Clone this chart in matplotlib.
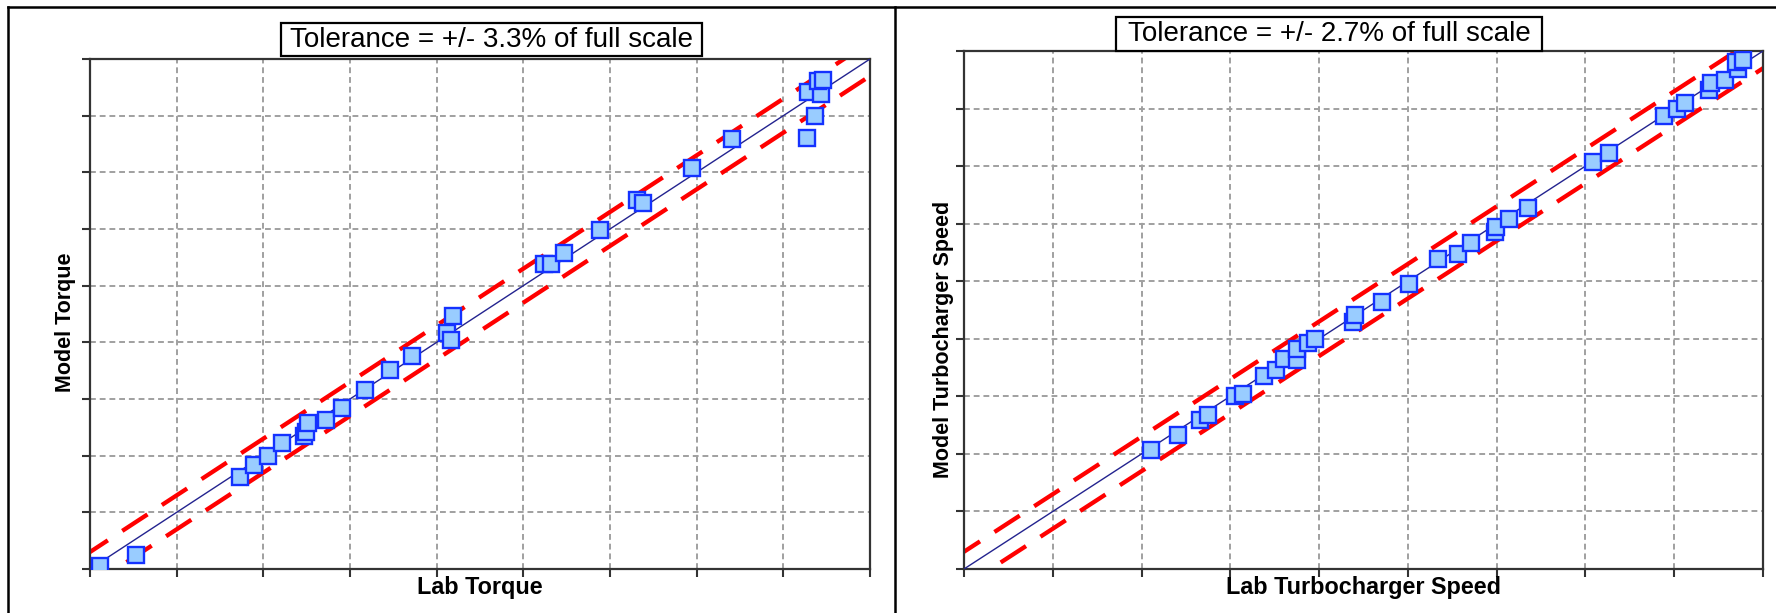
import matplotlib.pyplot as plt
import numpy as np
from matplotlib.lines import Line2D
from matplotlib.patches import Rectangle

plt.rcParams["font.family"] = ["Liberation Sans", "DejaVu Sans"]

# values are in grid units (the original shows no tick labels), 9 divisions per axis
torque_lab = [0.11, 0.53, 1.73, 1.89, 2.05, 2.22, 2.47, 2.49, 2.51, 2.72, 2.91, 3.17,
              3.46, 3.72, 4.12, 4.17, 4.19, 5.24, 5.32, 5.47, 5.88, 6.31, 6.38, 6.95,
              7.41, 8.27, 8.36, 8.29, 8.43, 8.40, 8.46]
torque_model = [0.05, 0.25, 1.62, 1.83, 1.99, 2.22, 2.35, 2.41, 2.58, 2.63, 2.85, 3.16,
                3.51, 3.76, 4.17, 4.05, 4.46, 5.38, 5.38, 5.57, 5.98, 6.51, 6.46, 7.08,
                7.58, 7.61, 8.00, 8.42, 8.38, 8.61, 8.63]

turbo_lab = [2.11, 2.41, 2.66, 2.75, 3.05, 3.14, 3.38, 3.52, 3.61, 3.75, 3.75, 3.88,
             3.95, 4.38, 4.40, 4.71, 5.01, 5.34, 5.57, 5.71, 5.98, 5.99, 6.14, 6.35,
             7.09, 7.27, 7.89, 8.03, 8.12, 8.39, 8.41, 8.57, 8.72, 8.70, 8.78]
turbo_model = [2.07, 2.33, 2.59, 2.68, 3.00, 3.04, 3.35, 3.46, 3.64, 3.63, 3.82, 3.92,
               3.99, 4.30, 4.41, 4.64, 4.96, 5.38, 5.48, 5.66, 5.86, 5.94, 6.08, 6.28,
               7.08, 7.22, 7.87, 7.99, 8.09, 8.33, 8.45, 8.50, 8.68, 8.81, 8.84]

grid_ticks = list(range(10))
torque_band = 0.30   # half-width of the tolerance band, grid units
turbo_band = 0.30

torque_title = "Tolerance = +/- 3.3% of full scale"
turbo_title = "Tolerance = +/- 2.7% of full scale"

W, H = 1776, 613
fig = plt.figure(figsize=(W / 100, H / 100), dpi=100)
fig.patch.set_facecolor("white")


def panel(rect, lab, model, band, title, xlabel, ylabel, box, ylab_xy, xlab_y):
    ax = fig.add_axes(rect)
    ax.set_xlim(grid_ticks[0], grid_ticks[-1])
    ax.set_ylim(grid_ticks[0], grid_ticks[-1])
    ax.set_xticks(grid_ticks)
    ax.set_yticks(grid_ticks)
    ax.set_xticklabels([])
    ax.set_yticklabels([])
    ax.tick_params(direction="out", length=5.5, width=1.5, color="#333333")
    ax.grid(True, linestyle=(0, (3, 2)), color="#a0a0a0", linewidth=1.4)
    ax.set_axisbelow(True)
    for sp in ax.spines.values():
        sp.set_linewidth(1.6)
        sp.set_color("#333333")

    line = np.array([grid_ticks[0] - 1, grid_ticks[-1] + 1], dtype=float)
    for off in (band, -band):
        ax.plot(line, line + off, color="#ff0000", linewidth=3.1,
                linestyle=(0, (7, 4)), dash_capstyle="butt", zorder=2)
    ax.plot(line, line, color="#23238f", linewidth=1.0, zorder=3)
    ax.plot(lab, model, linestyle="none", marker="s", markersize=11,
            markerfacecolor="#99ccff", markeredgecolor="#1432ff",
            markeredgewidth=1.7, zorder=4)

    x0, y0, x1, y1 = box
    ax.add_patch(Rectangle((x0, y0), x1 - x0, y1 - y0, transform=ax.transAxes,
                           facecolor="white", edgecolor="black", linewidth=1.6,
                           clip_on=False, zorder=5))
    ax.text((x0 + x1) / 2, (y0 + y1) / 2, title, transform=ax.transAxes,
            ha="center", va="center", fontsize=20, zorder=6)

    ax.text(0.5, xlab_y, xlabel, transform=ax.transAxes, ha="center", va="top",
            fontsize=16.8, fontweight="bold")
    ax.text(ylab_xy[0], ylab_xy[1], ylabel, transform=ax.transAxes, rotation=90,
            ha="center", va="center", fontsize=15.5, fontweight="bold")
    return ax


panel([90 / W, (H - 569) / H, 780 / W, 510 / H], torque_lab, torque_model,
      torque_band, torque_title, "Lab Torque", "Model Torque",
      (0.245, 1.005, 0.785, 1.071), (-0.031, 0.483), -0.014)
panel([964 / W, (H - 569) / H, 799 / W, 518 / H], turbo_lab, turbo_model,
      turbo_band, turbo_title, "Lab Turbocharger Speed", "Model Turbocharger Speed",
      (0.19, 1.0, 0.724, 1.066), (-0.026, 0.443), -0.013)

# outer frame of the two-panel screenshot
frame = dict(color="black", linewidth=1.8, transform=fig.transFigure)
fig.add_artist(Line2D([8 / W, 8 / W], [0, 1 - 7 / H], **frame))
fig.add_artist(Line2D([8 / W, 1], [1 - 7 / H, 1 - 7 / H], **frame))
fig.add_artist(Line2D([895 / W, 895 / W], [0, 1 - 7 / H], **frame))

fig.savefig("out.png", dpi=100)
